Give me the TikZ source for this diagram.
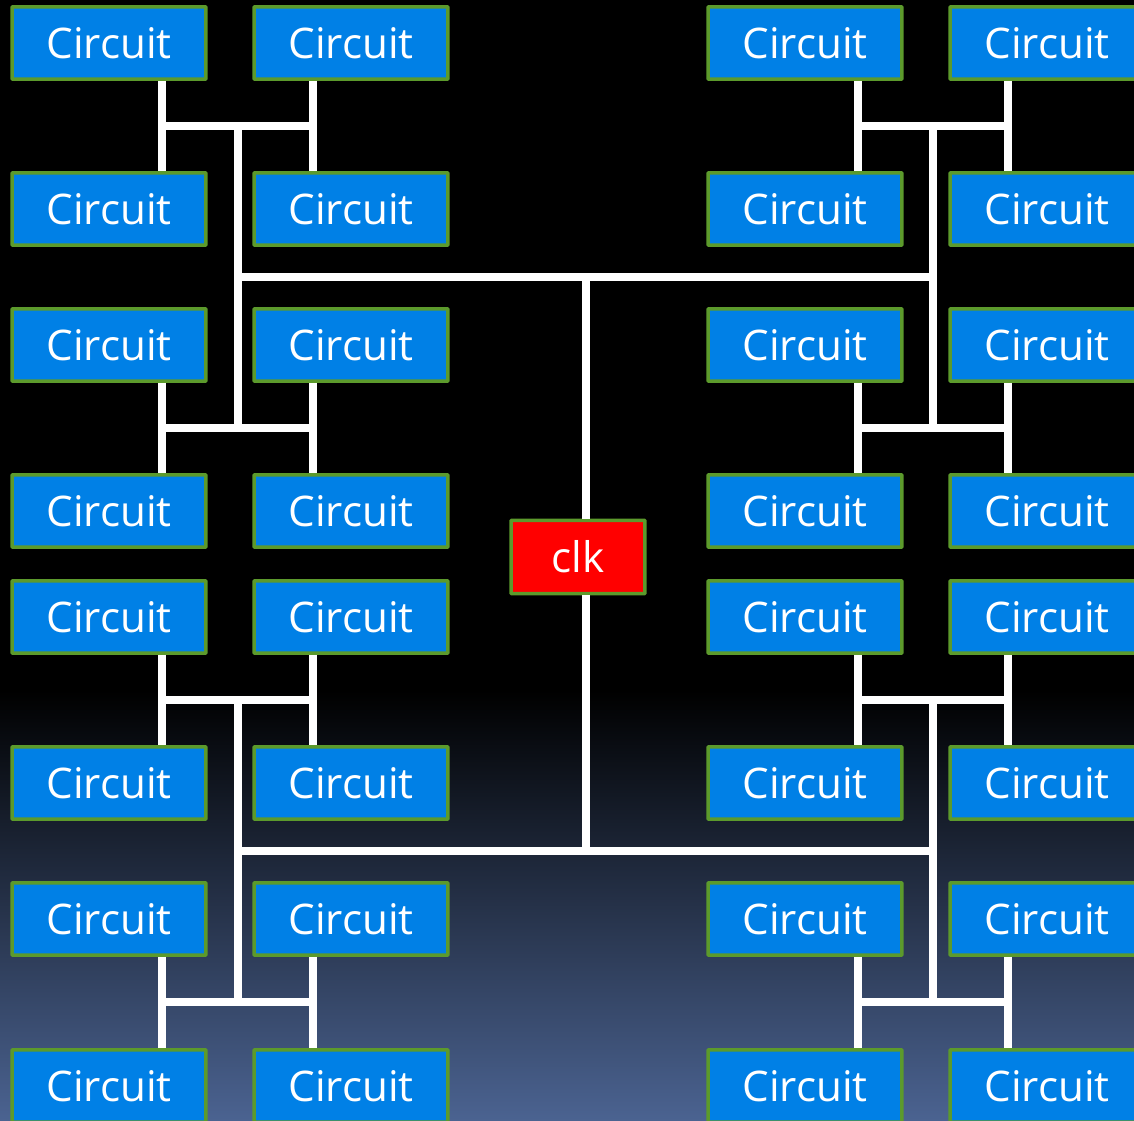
\documentclass[tikz,border=0pt]{standalone}
\usepackage{fontspec}
\setmainfont{Open Sans}
\usepackage{xcolor}
\usepackage{tikz}
\usetikzlibrary{calc}
\definecolor{boxblue}{RGB}{0,128,230}
\definecolor{boxgreen}{RGB}{92,154,44}
\definecolor{bgblue}{RGB}{75,99,145}

\begin{document}
\begin{tikzpicture}[
  x=0.02cm, y=-0.02cm,
  circ/.style={draw=boxgreen, line width=0.07cm, rounded corners=0.5pt, fill=boxblue, minimum width=3.88cm, minimum height=1.45cm, inner sep=0pt, text=white, font=\fontsize{24}{28}\selectfont},
  clkbox/.style={circ, fill=red, minimum width=2.68cm, minimum height=1.47cm},
  wire/.style={draw=white, line width=0.16cm}
]
\useasboundingbox (0,0) rectangle (1134,1121);
\clip (0,0) rectangle (1134,1121);
\fill[black] (0,0) rectangle (1134,1121);
\shade[top color=black, bottom color=bgblue] (0,690) rectangle (1134,1121);

\node[circ] (c11) at (109,43) {Circuit};
\node[circ] (c12) at (351,43) {Circuit};
\node[circ] (c13) at (805,43) {Circuit};
\node[circ] (c14) at (1047,43) {Circuit};
\node[circ] (c21) at (109,209) {Circuit};
\node[circ] (c22) at (351,209) {Circuit};
\node[circ] (c23) at (805,209) {Circuit};
\node[circ] (c24) at (1047,209) {Circuit};
\node[circ] (c31) at (109,345) {Circuit};
\node[circ] (c32) at (351,345) {Circuit};
\node[circ] (c33) at (805,345) {Circuit};
\node[circ] (c34) at (1047,345) {Circuit};
\node[circ] (c41) at (109,511) {Circuit};
\node[circ] (c42) at (351,511) {Circuit};
\node[circ] (c43) at (805,511) {Circuit};
\node[circ] (c44) at (1047,511) {Circuit};
\node[circ] (c51) at (109,617) {Circuit};
\node[circ] (c52) at (351,617) {Circuit};
\node[circ] (c53) at (805,617) {Circuit};
\node[circ] (c54) at (1047,617) {Circuit};
\node[circ] (c61) at (109,783) {Circuit};
\node[circ] (c62) at (351,783) {Circuit};
\node[circ] (c63) at (805,783) {Circuit};
\node[circ] (c64) at (1047,783) {Circuit};
\node[circ] (c71) at (109,919) {Circuit};
\node[circ] (c72) at (351,919) {Circuit};
\node[circ] (c73) at (805,919) {Circuit};
\node[circ] (c74) at (1047,919) {Circuit};
\node[circ] (c81) at (109,1086) {Circuit};
\node[circ] (c82) at (351,1086) {Circuit};
\node[circ] (c83) at (805,1086) {Circuit};
\node[circ] (c84) at (1047,1086) {Circuit};

\node[clkbox] (clk) at (578,557) {clk};

% x positions of the wire columns
\coordinate (wa) at (162,0);
\coordinate (wb) at (313,0);
\coordinate (wc) at (858,0);
\coordinate (wd) at (1008,0);
\coordinate (sl) at (237.5,0);
\coordinate (sr) at (933,0);
\coordinate (mid) at (586,0);

% pairs of rows joined by a short bar
\foreach \t/\b in {1/2,3/4,5/6,7/8} {
  \coordinate (m\t) at ($(c\t1.south)!.5!(c\b1.north)$);
  \draw[wire] (c\t1.south -| wa) -- (c\b1.north -| wa);
  \draw[wire] (c\t2.south -| wb) -- (c\b2.north -| wb);
  \draw[wire] (m\t -| wa) -- (m\t -| wb);
  \draw[wire] (c\t3.south -| wc) -- (c\b3.north -| wc);
  \draw[wire] (c\t4.south -| wd) -- (c\b4.north -| wd);
  \draw[wire] (m\t -| wc) -- (m\t -| wd);
}

\coordinate (ht) at ($(m1)!.5!(m3)$);
\coordinate (hb) at ($(m5)!.5!(m7)$);
\draw[wire] (m1 -| sl) -- (m3 -| sl);
\draw[wire] (m1 -| sr) -- (m3 -| sr);
\draw[wire] (m5 -| sl) -- (m7 -| sl);
\draw[wire] (m5 -| sr) -- (m7 -| sr);
\draw[wire] (ht -| sl) -- (ht -| sr);
\draw[wire] (hb -| sl) -- (hb -| sr);
\draw[wire] (ht -| mid) -- (clk.north -| mid);
\draw[wire] (clk.south -| mid) -- (hb -| mid);
\end{tikzpicture}
\end{document}
